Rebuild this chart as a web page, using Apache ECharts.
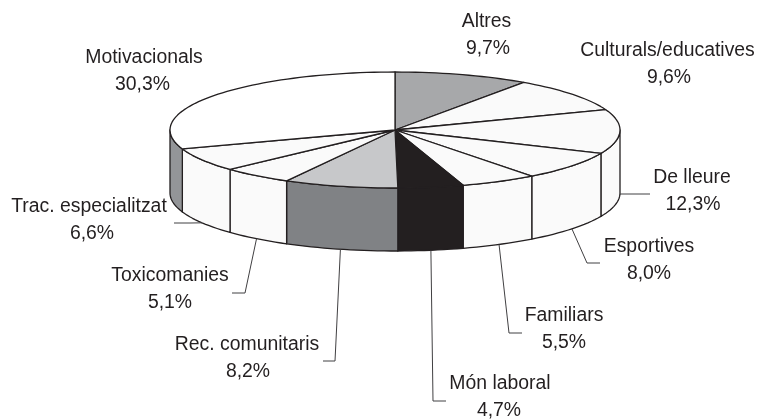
<!DOCTYPE html>
<html>
<head>
<meta charset="utf-8">
<style>html,body{margin:0;padding:0;background:#fff}#c{width:757px;height:419px}</style>
<script src="https://cdn.jsdelivr.net/npm/echarts@6/dist/echarts.min.js"></script>
</head>
<body>
<div id="c"></div>
<script>
var categories = ['Altres','Culturals/educatives','De lleure','Esportives','Familiars','Món laboral','Rec. comunitaris','Toxicomanies','Trac. especialitzat','Motivacionals'];
var values = [9.7,9.6,12.3,8.0,5.5,4.7,8.2,5.1,6.6,30.3];
var topColors = ['#a7a8aa','#fafafa','#fafafa','#fafafa','#fafafa','#231f20','#c7c8ca','#fafafa','#fafafa','#ffffff'];
var sideColors = ['#a7a8aa','#fafafa','#fafafa','#fafafa','#fafafa','#231f20','#808285','#fafafa','#fafafa','#939598'];

// layout of the tilted pie
var CX = 395, CY = 130, RX = 225, RY = 58, DEPTH = 63;
var INK = '#231f20';
// label layout: [name centre x, value centre x, name baseline y, value baseline y]
var BASE_SHIFT = 5;
var labelPos = [
  [486.5,488,27,54],[667.5,669,56,83],[692,693,183,210],[649,649,252,279],[564,564,321,348],
  [500,499,389,416],[247,248,350,377],[170,170,281,308],[89,92,212,239],[144,142.5,63,90]
];
var leaders = [
  null,null,[[620,194],[650,194]],[[587,263],[600,263]],[[509,333],[522,333]],
  [[433,401],[446,401]],[[335,361],[323,361]],[[245,293],[232,293]],[[190,223],[174,223]],null
];

var total = values.reduce(function(a,b){return a+b;},0);
var running = 0;
var seriesData = values.map(function(v){ var s = running; running += v; return [s, running]; });

function pt(pct, dy){
  var a = pct/total*2*Math.PI;
  return [CX+RX*Math.sin(a), CY-RY*Math.cos(a)+(dy||0)];
}
function arc(from,to,dy){
  var n = Math.max(2,Math.ceil((to-from)*2)), out=[];
  for(var i=0;i<=n;i++) out.push(pt(from+(to-from)*i/n,dy));
  return out;
}
var rightPct = total/4, leftPct = total*3/4;

function renderItem(params, api){
  var i = params.dataIndex, s = api.value(0), e = api.value(1), kids = [];
  var from = Math.max(s,rightPct), to = Math.min(e,leftPct);
  if(to>from){
    var upper = arc(from,to,0), lower = arc(from,to,DEPTH).reverse();
    kids.push({type:'polygon',shape:{points:upper.concat(lower)},
      style:{fill:sideColors[i],stroke:INK,lineWidth:1.3,lineJoin:'round'}});
  }
  kids.push({type:'polygon',shape:{points:[[CX,CY]].concat(arc(s,e,0))},
    style:{fill:topColors[i],stroke:INK,lineWidth:1.3,lineJoin:'round'}});
  if(leaders[i]){
    kids.push({type:'polyline',shape:{points:[pt((s+e)/2,DEPTH)].concat(leaders[i])},
      style:{fill:null,stroke:'#414042',lineWidth:1}});
  }
  var p = labelPos[i], font = '19.4px "Liberation Sans", Arial, sans-serif';
  kids.push({type:'text',x:p[0],y:p[2]-BASE_SHIFT,style:{text:categories[i],font:font,fill:INK,align:'center',verticalAlign:'middle'}});
  kids.push({type:'text',x:p[1],y:p[3]-BASE_SHIFT,style:{text:values[i].toFixed(1).replace('.',',')+'%',font:font,fill:INK,align:'center',verticalAlign:'middle'}});
  return {type:'group',children:kids};
}

var chart = echarts.init(document.getElementById('c'),null,{renderer:'canvas'});
chart.setOption({
  animation:false,
  backgroundColor:'#ffffff',
  series:[{type:'custom',coordinateSystem:'none',silent:true,renderItem:renderItem,
    data:seriesData,clip:false}]
});
</script>
</body>
</html>
